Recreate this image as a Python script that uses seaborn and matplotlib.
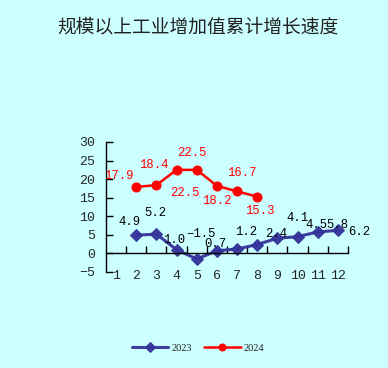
import matplotlib
matplotlib.use("Agg")
import matplotlib.pyplot as plt
import seaborn as sns
import pandas as pd
from matplotlib.ticker import FixedLocator

# data
months = list(range(1, 13))
months_2023 = [2, 3, 4, 5, 6, 7, 8, 9, 10, 11, 12]
growth_2023 = [4.9, 5.2, 1.0, -1.5, 0.7, 1.2, 2.4, 4.1, 4.5, 5.8, 6.2]
months_2024 = [2, 3, 4, 5, 6, 7, 8]
growth_2024 = [17.9, 18.4, 22.5, 22.5, 18.2, 16.7, 15.3]
yticks = [-5, 0, 5, 10, 15, 20, 25, 30]
title = "规模以上工业增加值累计增长速度"

# label offsets in pixels (the original chart placed them by hand)
off_2023 = [(-7, 13), (-1, 21), (-2, 10), (4, 25), (-2, 7), (9, 17),
            (19, 11), (20, 20), (19, 12), (20, 7), (21, -2)]
off_2024 = [(-17, 11), (-3, 20), (8, -23), (-5, 17), (0, -15), (5, 18), (3, -14)]

BG = "#CCFFFF"
BLUE = "#333399"
RED = "#FF0000"
NUMFONT = "Liberation Mono"
NUMSIZE = 8.8


def fmt(v):
    return f"{v:.1f}".replace("-", "\u2212")


sns.set_theme(style="white")
plt.rcParams["font.family"] = ["Noto Sans CJK SC", "DejaVu Sans"]

df23 = pd.DataFrame({"month": months_2023, "growth": growth_2023})
df24 = pd.DataFrame({"month": months_2024, "growth": growth_2024})

fig = plt.figure(figsize=(3.88, 3.68), dpi=100, facecolor=BG)
ax = fig.add_axes([106 / 388, 1 - 272 / 368, 242 / 388, 130 / 368])
ax.set_facecolor(BG)

sns.lineplot(data=df23, x="month", y="growth", ax=ax, color=BLUE, lw=2.2,
             marker="D", markersize=6.5, markeredgecolor=BLUE, label="2023",
             alpha=0.95)
sns.lineplot(data=df24, x="month", y="growth", ax=ax, color=RED, lw=1.8,
             marker="o", markersize=6.5, markeredgecolor=RED, label="2024")

for m, v, (dx, dy) in zip(months_2023, growth_2023, off_2023):
    ax.annotate(fmt(v), (m, v), xytext=(dx, dy), textcoords="offset pixels",
                ha="center", va="center", fontsize=NUMSIZE, family=NUMFONT,
                color="black")
for m, v, (dx, dy) in zip(months_2024, growth_2024, off_2024):
    ax.annotate(fmt(v), (m, v), xytext=(dx, dy), textcoords="offset pixels",
                ha="center", va="center", fontsize=NUMSIZE, family=NUMFONT,
                color=RED)

ax.set_xlim(0.5, 12.5)
ax.set_ylim(-5, 30)
ax.set_xlabel("")
ax.set_ylabel("")

for s in ["top", "right"]:
    ax.spines[s].set_visible(False)
ax.spines["left"].set_color("black")
ax.spines["left"].set_linewidth(1.0)
ax.spines["bottom"].set_position(("data", 0))
ax.spines["bottom"].set_color("black")
ax.spines["bottom"].set_linewidth(1.0)

ax.set_yticks(yticks)
ax.set_yticklabels([str(t).replace("-", "\u2212") for t in yticks],
                   family=NUMFONT, fontsize=9.5)
ax.tick_params(axis="y", direction="in", length=5, width=1, color="black",
               left=True, pad=8)

ax.set_xticks(months)
ax.set_xticklabels([str(m) for m in months], family=NUMFONT, fontsize=9.5)
ax.xaxis.set_minor_locator(FixedLocator([m + 0.5 for m in months]))
ax.tick_params(axis="x", which="major", length=0, pad=12)
ax.tick_params(axis="x", which="minor", direction="in", length=5, width=1,
               color="black", bottom=True)

fig.text(198 / 388, 1 - 27 / 368, title, ha="center", va="center",
         fontsize=13.5, color="#222222")

leg = ax.legend(loc="center", bbox_to_anchor=(198 / 388, 1 - 348 / 368),
                bbox_transform=fig.transFigure, ncol=2, frameon=False,
                handlelength=3.5, columnspacing=1.2, handletextpad=0.3,
                prop={"family": "Liberation Serif", "size": 7.5})
for h in leg.legend_handles:
    h.set_markersize(5)

fig.savefig("out.png", dpi=100, facecolor=BG)
